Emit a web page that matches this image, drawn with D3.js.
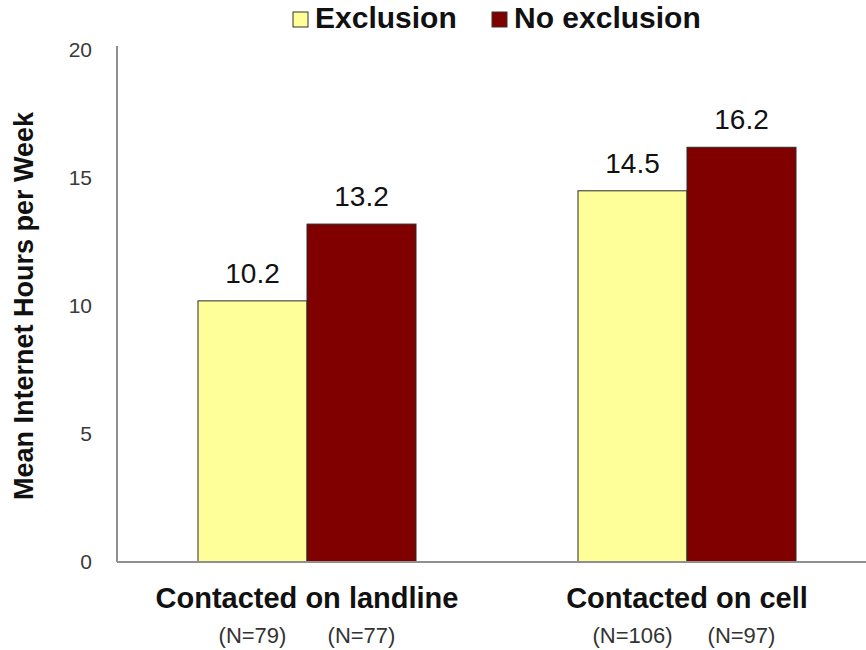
<!DOCTYPE html>
<html>
<head>
<meta charset="utf-8">
<script src="https://cdn.jsdelivr.net/npm/d3@7"></script>
<style>
  html, body { margin: 0; padding: 0; background: #fff; }
  svg { display: block; font-family: "Liberation Sans", Arial, sans-serif; }
</style>
</head>
<body>
<svg id="chart" width="866" height="650"></svg>
<script>
// Mean weekly internet hours by contact mode and exclusion status
const categories = ["Contacted on landline", "Contacted on cell"];
const seriesNames = ["Exclusion", "No exclusion"];
const exclusionValues = [10.2, 14.5];
const noExclusionValues = [13.2, 16.2];
const sampleSizes = [["(N=79)", "(N=77)"], ["(N=106)", "(N=97)"]];
const yTicks = [0, 5, 10, 15, 20];
const colors = ["#FFFF99", "#800000"];

const svg = d3.select("#chart");
const plotLeft = 117, plotRight = 877, plotTop = 50, plotBottom = 562;

const x0 = d3.scaleBand().domain(categories).range([plotLeft, plotRight]).padding(0);
const groupWidth = 218;
const x1 = d3.scaleBand().domain(seriesNames)
  .range([x0.bandwidth() / 2 - groupWidth / 2, x0.bandwidth() / 2 + groupWidth / 2])
  .padding(0);
const y = d3.scaleLinear().domain([0, 20]).range([plotBottom, plotTop]);

const rows = categories.map((c, i) => ({
  category: c,
  values: [
    { series: seriesNames[0], value: exclusionValues[i], n: sampleSizes[i][0] },
    { series: seriesNames[1], value: noExclusionValues[i], n: sampleSizes[i][1] }
  ]
}));

// Y axis: gray line with tick labels only
const yAxis = d3.axisLeft(y).tickValues(yTicks).tickSize(0).tickPadding(25);
const gy = svg.append("g").attr("transform", `translate(${plotLeft},0)`).call(yAxis);
gy.select(".domain").attr("stroke", "#8f8f8f").attr("stroke-width", 2)
  .attr("d", `M0,${plotTop - 4}V${plotBottom}`);
gy.selectAll("text").attr("font-size", 21).attr("fill", "#3a3a3a")
  .attr("font-family", "Liberation Sans, Arial, sans-serif");

// Bars
const groups = svg.selectAll("g.cat").data(rows).join("g")
  .attr("class", "cat")
  .attr("transform", d => `translate(${x0(d.category)},0)`);

groups.selectAll("rect").data(d => d.values).join("rect")
  .attr("x", d => x1(d.series))
  .attr("y", d => y(d.value))
  .attr("width", x1.bandwidth())
  .attr("height", d => y(0) - y(d.value))
  .attr("fill", (d, i) => colors[i])
  .attr("stroke", "#2a2a2a")
  .attr("stroke-width", 1);

// Value labels
groups.selectAll("text.val").data(d => d.values).join("text")
  .attr("class", "val")
  .attr("x", d => x1(d.series) + x1.bandwidth() / 2)
  .attr("y", d => y(d.value) - 18)
  .attr("text-anchor", "middle")
  .attr("font-size", 28)
  .attr("fill", "#111")
  .text(d => d.value.toFixed(1));

// Sample size labels
groups.selectAll("text.n").data(d => d.values).join("text")
  .attr("class", "n")
  .attr("x", d => x1(d.series) + x1.bandwidth() / 2)
  .attr("y", 643)
  .attr("text-anchor", "middle")
  .attr("font-size", 22)
  .attr("fill", "#333")
  .text(d => d.n);

// Category labels
groups.append("text")
  .attr("x", x0.bandwidth() / 2)
  .attr("y", 608)
  .attr("text-anchor", "middle")
  .attr("font-size", 29)
  .attr("font-weight", "bold")
  .attr("fill", "#111")
  .text(d => d.category);

// X axis baseline
svg.append("line")
  .attr("x1", plotLeft).attr("x2", 866)
  .attr("y1", y(0)).attr("y2", y(0))
  .attr("stroke", "#8f8f8f").attr("stroke-width", 2);

// Y axis title
svg.append("text")
  .attr("transform", `translate(33,306) rotate(-90)`)
  .attr("text-anchor", "middle")
  .attr("font-size", 27)
  .attr("font-weight", "bold")
  .attr("fill", "#111")
  .text("Mean Internet Hours per Week");

// Legend
const legendX = [293, 492];
const legend = svg.selectAll("g.legend").data(seriesNames).join("g")
  .attr("class", "legend")
  .attr("transform", (d, i) => `translate(${legendX[i]},12)`);
legend.append("rect")
  .attr("width", 15).attr("height", 15)
  .attr("fill", (d, i) => colors[i])
  .attr("stroke", "#333").attr("stroke-width", 1);
legend.append("text")
  .attr("x", 22).attr("y", 16)
  .attr("font-size", 30)
  .attr("font-weight", "bold")
  .attr("fill", "#111")
  .text(d => d);
</script>
</body>
</html>
